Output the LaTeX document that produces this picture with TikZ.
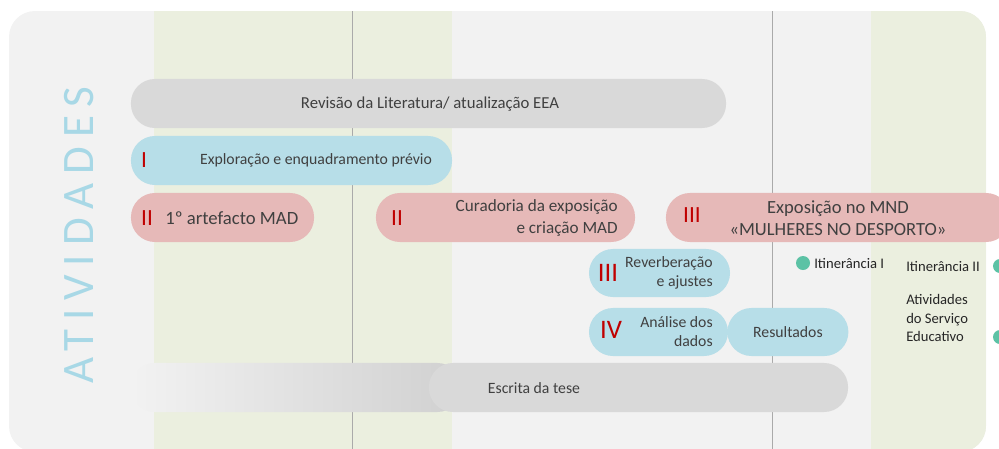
\documentclass[tikz,border=0pt]{standalone}
\usepackage{fontspec}
\setmainfont{Carlito}
\usepackage{tikz}
\usetikzlibrary{positioning,calc}
\definecolor{panelgray}{RGB}{242,242,242}
\definecolor{bandgreen}{RGB}{235,239,223}
\definecolor{linegray}{RGB}{170,170,170}
\definecolor{pillgray}{RGB}{217,217,217}
\definecolor{pillblue}{RGB}{183,222,232}
\definecolor{pillpink}{RGB}{230,185,184}
\definecolor{numred}{RGB}{192,0,0}
\definecolor{txtgray}{RGB}{64,64,64}
\definecolor{dotgreen}{RGB}{92,194,165}
\definecolor{titleblue}{RGB}{168,216,230}
\tikzstyle{pill} = [rectangle, rounded corners=0.6cm, minimum height=1.225cm, inner sep=0pt]
\tikzstyle{lit} = [pill, fill=pillgray]
\tikzstyle{fase} = [pill, fill=pillblue]
\tikzstyle{expo} = [pill, fill=pillpink]
\tikzstyle{txt} = [text=txtgray, inner sep=0pt, font=\fontsize{11.2}{13.6}\selectfont]
\tikzstyle{big} = [txt, font=\fontsize{12.2}{16.2}\selectfont]
\tikzstyle{num} = [text=numred, inner sep=0pt, font=\fontsize{16.5}{18}\selectfont]
\tikzstyle{bignum} = [num, font=\fontsize{19}{20}\selectfont]
\tikzstyle{marco} = [circle, fill=dotgreen, minimum size=0.35cm, inner sep=0pt]
\tikzstyle{nota} = [text=black!85, inner sep=0pt, align=left, font=\fontsize{10.4}{13.2}\selectfont]

\begin{document}
\begin{tikzpicture}[x=0.025cm, y=-0.025cm]
	\useasboundingbox (0,0) rectangle (999,448);
	\clip (0,0) rectangle (999,448);
	% fundo
	\fill[panelgray, rounded corners=0.65cm] (9,11) rectangle (986,452);
	\begin{scope}
		\clip[rounded corners=0.65cm] (9,11) rectangle (986,452);
		\fill[bandgreen] (154,11) rectangle (452,452);
		\fill[bandgreen] (871,11) rectangle (986,452);
		\draw[linegray, line width=0.6pt] (352,11) -- (352,452);
		\draw[linegray, line width=0.6pt] (772,11) -- (772,452);
	\end{scope}
	%
	\node (titulo) [rotate=90, text=titleblue, inner sep=0pt,
		font=\fontsize{32}{32}\selectfont\addfontfeature{LetterSpace=20}] at (79,235) {ATIVIDADES};
	%
	\node (revisao) [lit, minimum width=14.875cm] at (428.5,103.5) {};
	\node (revisaoT) [txt, font=\fontsize{11.9}{14}\selectfont] at (430,104) {Revisão da Literatura/ atualização EEA};
	%
	\node (explor) [fase, minimum width=8.025cm] at (291.5,160.5) {};
	\node (explorN) [num] at (144,160) {I};
	\node (explorT) [txt] at (316,160) {Exploração e enquadramento prévio};
	%
	\node (artef) [expo, minimum width=4.575cm] at (222.5,217.5) {};
	\node (artefN) [num] at (147,218) {II};
	\node (artefT) [big, font=\fontsize{13.3}{16}\selectfont, anchor=west] at (165,218) {1º artefacto MAD};
	%
	\node (curad) [expo, minimum width=6.475cm] at (505.5,217.5) {};
	\node (curadN) [num] at (397,218) {II};
	\node (curadT) [big, align=right, anchor=east] at (618,218) {Curadoria da exposição\\e criação MAD};
	%
	\node (expos) [expo, minimum width=8.6cm] at (838,217.5) {};
	\node (exposN) [num] at (692,215) {III};
	\node (exposT) [big, font=\fontsize{13.2}{15.8}\selectfont, align=center] at (838,218) {Exposição no MND\\«MULHERES NO DESPORTO»};
	%
	\node (reverb) [fase, minimum width=3.525cm, minimum height=1.2cm] at (659.5,273) {};
	\node (reverbN) [bignum] at (608,273) {III};
	\node (reverbT) [txt, align=right, anchor=east] at (713,273) {Reverberação\\e ajustes};
	%
	\node (analise) [fase, minimum width=3.475cm, minimum height=1.2cm] at (658.5,332) {};
	\node (result) [fase, minimum width=3.025cm, minimum height=1.2cm, right=-0.03cm of analise] {};
	\node (analiseN) [bignum] at (611,330) {IV};
	\node (analiseT) [txt, align=right, anchor=east] at (713,332) {Análise dos\\dados};
	\node (resultT) [txt] at (result.center) {Resultados};
	%
	\node (escritaG) [pill, minimum width=8.25cm, left color=panelgray, right color=pillgray!96!black,
		anchor=west] at (131,387.5) {};
	\node (escrita) [lit, minimum width=10.475cm] at (638.5,387.5) {};
	\node (escritaT) [txt] at (534,388) {Escrita da tese};
	%
	\node (itin1) [marco] at (803,263) {};
	\node (itin1T) [nota, anchor=west] at (814,263) {Itinerância I};
	\node (itin2T) [nota, anchor=west] at (906,266) {Itinerância II};
	\node (itin2) [marco] at (1000,266) {};
	\node (servT) [nota, anchor=west] at (906,318) {Atividades\\do Serviço\\Educativo};
	\node (serv) [marco] at (1000,337) {};
\end{tikzpicture}
\end{document}
